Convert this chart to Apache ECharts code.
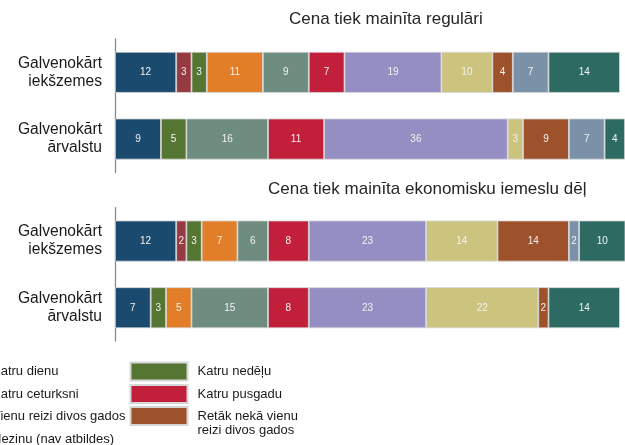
<!DOCTYPE html>
<html>
<head>
<meta charset="utf-8">
<script src="https://cdn.jsdelivr.net/npm/echarts@6/dist/echarts.min.js"></script>
<style>
  html, body { margin: 0; padding: 0; background: #ffffff; }
  #chart { width: 625px; height: 445px; }
</style>
</head>
<body>
<div id="chart"></div>
<script>
// Respondent groups (rows of each panel)
const categories = ['Galvenokārt\niekšzemes', 'Galvenokārt\nārvalstu'];

// How often prices are changed (stack segments, in order)
const frequencies = [
  'Vairākas reizes dienā',
  'Katru dienu',
  'Katru nedēļu',
  'Katru mēnesi',
  'Katru ceturksni',
  'Katru pusgadu',
  'Vienu reizi gadā',
  'Vienu reizi divos gados',
  'Retāk nekā vienu reizi divos gados',
  'Nekad',
  'Nezinu (nav atbildes)'
];

const colors = [
  '#1b4a6f', '#953a40', '#557533', '#e27e27', '#6e8c80', '#c21f3a',
  '#948ec3', '#cbc37e', '#9e522b', '#7a91a8', '#2d6b62'
];

// Panel 1: price changed regularly (%), per frequency
const regularDomestic = [12, 3, 3, 11, 9, 7, 19, 10, 4, 7, 14];
const regularForeign  = [9, null, 5, null, 16, 11, 36, 3, 9, 7, 4];

// Panel 2: price changed for economic reasons (%), per frequency
const economicDomestic = [12, 2, 3, 7, 6, 8, 23, 14, 14, 2, 10];
const economicForeign  = [7, null, 3, 5, 15, 8, 23, 22, 2, null, 14];

const panelTitles = ['Cena tiek mainīta regulāri', 'Cena tiek mainīta ekonomisku iemeslu dēļ'];

const FONT = '"Liberation Sans", Arial, sans-serif';

function panelSeries(panel, domestic, foreign) {
  return frequencies.map((name, i) => ({
    type: 'bar',
    name: name,
    stack: 'panel' + panel,
    xAxisIndex: panel,
    yAxisIndex: panel,
    barWidth: 41,
    data: [domestic[i], foreign[i]],
    itemStyle: { color: colors[i], borderColor: '#d6d6d6', borderWidth: 0.8 },
    label: {
      show: true,
      position: 'inside',
      color: '#f2f2f2',
      fontSize: 10,
      fontFamily: FONT
    },
    emphasis: { disabled: true }
  }));
}

const grids = [
  { left: 115, width: 520, top: 39, height: 133.4 },
  { left: 115, width: 520, top: 207.7, height: 133.4 }
];

const xAxes = grids.map((g, i) => ({
  type: 'value', gridIndex: i, min: 0, max: 100, show: false
}));

const yAxes = grids.map((g, i) => ({
  type: 'category',
  gridIndex: i,
  data: categories,
  inverse: true,
  axisLine: { show: true, lineStyle: { color: '#8a8a8a', width: 1.3 } },
  axisTick: { show: false },
  axisLabel: {
    color: '#1a1a1a',
    fontSize: 15.6,
    lineHeight: 18,
    margin: 13,
    fontFamily: FONT
  }
}));

const longName = frequencies[8];

const legendText = { fontSize: 13, lineHeight: 16, color: '#1a1a1a', fontFamily: FONT, padding: [0, 0, 0, 5] };

const legendBase = {
  orient: 'vertical',
  icon: 'rect',
  itemWidth: 57,
  itemHeight: 18,
  itemGap: 2.6,
  padding: 0,
  height: 120,
  selectedMode: false,
  textStyle: legendText
};

const legends = [
  Object.assign({}, legendBase, { left: -282, top: 361.5, data: [frequencies[0], frequencies[3], frequencies[6], frequencies[9]] }),
  Object.assign({}, legendBase, { left: -76, top: 361.5, data: [frequencies[1], frequencies[4], frequencies[7], frequencies[10]] }),
  Object.assign({}, legendBase, { left: 129.5, top: 361.5, data: [frequencies[2], frequencies[5]] }),
  Object.assign({}, legendBase, {
    left: 129.5, top: 394,
    data: [longName],
    formatter: () => '\nRetāk nekā vienu\nreizi divos gados',
    textStyle: Object.assign({}, legendText, { lineHeight: 14.7 })
  })
];

const option = {
  animation: false,
  backgroundColor: '#ffffff',
  title: [
    { text: panelTitles[0], left: 289, top: 10.6, padding: 0,
      textStyle: { fontSize: 17, fontWeight: 'normal', color: '#262626', fontFamily: FONT } },
    { text: panelTitles[1], left: 268, top: 180.6, padding: 0,
      textStyle: { fontSize: 17, fontWeight: 'normal', color: '#262626', fontFamily: FONT } }
  ],
  legend: legends,
  grid: grids,
  xAxis: xAxes,
  yAxis: yAxes,
  series: [].concat(
    panelSeries(0, regularDomestic, regularForeign),
    panelSeries(1, economicDomestic, economicForeign)
  )
};

const chart = echarts.init(document.getElementById('chart'), null, { renderer: 'canvas' });
chart.setOption(option);
</script>
</body>
</html>
